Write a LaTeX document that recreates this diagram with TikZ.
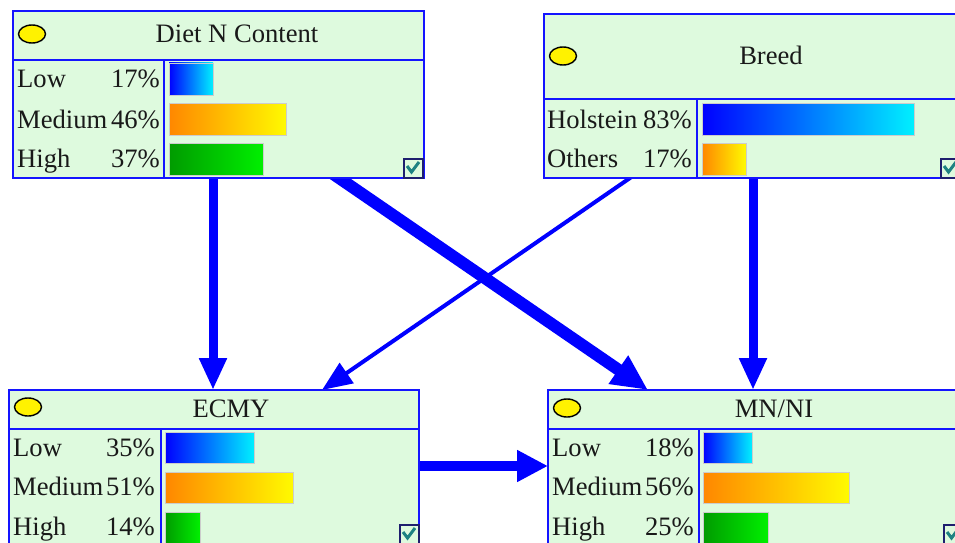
\documentclass[tikz,border=0pt]{standalone}
\usepackage{fontspec}
\setmainfont{Liberation Serif}
\usetikzlibrary{arrows.meta,calc,shapes.geometric}
\pgfdeclarelayer{bg}
\pgfsetlayers{bg,main}
\definecolor{nodebg}{RGB}{222,250,222}
\definecolor{nodeblue}{RGB}{20,20,255}
\definecolor{arrblue}{RGB}{0,0,255}
\definecolor{chkteal}{RGB}{30,130,130}
\definecolor{chknavy}{RGB}{30,30,110}
\definecolor{barblueL}{RGB}{0,0,255}
\definecolor{barblueR}{RGB}{0,240,255}
\definecolor{barorL}{RGB}{255,135,0}
\definecolor{barorR}{RGB}{255,250,0}
\definecolor{bargrL}{RGB}{0,155,0}
\definecolor{bargrR}{RGB}{0,240,0}
\tikzset{
  netbox/.style={draw=nodeblue, line width=2pt, fill=nodebg, inner sep=0pt, outer sep=0pt, anchor=north west},
  sepline/.style={draw=nodeblue, line width=2pt},
  txt/.style={inner sep=0pt, font=\fontsize{26.6}{30}\selectfont, text=black!90},
  lbl/.style={txt, anchor=base west},
  pct/.style={txt, anchor=base east},
  ttl/.style={txt, anchor=base},
  barline/.style={draw=black!20, line width=0.6pt},
  bluebar/.style={barline, left color=barblueL, right color=barblueR},
  orbar/.style={barline, left color=barorL, right color=barorR},
  grbar/.style={barline, left color=bargrL, right color=bargrR},
  bulb/.style={ellipse, draw=black, line width=1.4pt, fill=yellow, minimum width=27pt, minimum height=18pt, inner sep=0pt},
  chkbox/.style={draw=chknavy, line width=1.5pt, fill=nodebg, minimum size=19pt, inner sep=0pt, anchor=north west},
  chk/.style={draw=chkteal, line width=3pt},
  arr/.style={draw=arrblue, shorten <=-12pt, -{Triangle[length=32pt,width=26pt]}},
}
\begin{document}
\begin{tikzpicture}[x=1pt,y=-1pt]
\clip (0,0) rectangle (955,543);

% ---------- Diet N Content ----------
\node[netbox, minimum width=411pt, minimum height=167pt] (diet) at (13,11) {};
\draw[sepline] (13,60) -- (424,60);
\draw[sepline] (164,60) -- (164,178);
\node[bulb] (dietb) at (32,34) {};
\node[ttl] (diett) at (237,42) {Diet N Content};
\node[lbl] (dl1) at (17,88) {Low};
\node[pct] (dp1) at (160,88) {17\%};
\node[lbl] (dl2) at (17,128) {Medium};
\node[pct] (dp2) at (160,128) {46\%};
\node[lbl] (dl3) at (17,167) {High};
\node[pct] (dp3) at (160,167) {37\%};
\path[bluebar] (169,63) rectangle (213,95);
\path[orbar] (169,103) rectangle (286,135);
\path[grbar] (169,143) rectangle (263,175);
\node[chkbox] (dietc) at (403,158) {};
\draw[chk] (407,166) -- (411.5,172) -- (419,162);

% ---------- Breed ----------
\node[netbox, minimum width=420pt, minimum height=164pt] (breed) at (544,14) {};
\draw[sepline] (544,99) -- (964,99);
\draw[sepline] (697,99) -- (697,178);
\node[bulb] (breedb) at (563,56) {};
\node[ttl] (breedt) at (771,65) {Breed};
\node[lbl] (bl1) at (547,128) {Holstein};
\node[pct] (bp1) at (692,128) {83\%};
\node[lbl] (bl2) at (547,167) {Others};
\node[pct] (bp2) at (692,167) {17\%};
\path[bluebar] (702,103) rectangle (914,135);
\path[orbar] (702,143) rectangle (746,175);
\node[chkbox] (breedc) at (940,158) {};
\draw[chk] (944,166) -- (948.5,172) -- (956,162);

% ---------- ECMY ----------
\node[netbox, minimum width=410pt, minimum height=170pt] (ecmy) at (9,390) {};
\draw[sepline] (9,429) -- (419,429);
\draw[sepline] (161,429) -- (161,560);
\node[bulb] (ecmyb) at (28,407) {};
\node[ttl] (ecmyt) at (231,417) {ECMY};
\node[lbl] (el1) at (13,456) {Low};
\node[pct] (ep1) at (155,456) {35\%};
\node[lbl] (el2) at (13,495) {Medium};
\node[pct] (ep2) at (155,495) {51\%};
\node[lbl] (el3) at (13,535) {High};
\node[pct] (ep3) at (155,535) {14\%};
\path[bluebar] (165,432) rectangle (254,463);
\path[orbar] (165,472) rectangle (293,503);
\path[grbar] (165,512) rectangle (200,545);
\node[chkbox] (ecmyc) at (399,524) {};
\draw[chk] (403,532) -- (407.5,538) -- (415,528);

% ---------- MN/NI ----------
\node[netbox, minimum width=420pt, minimum height=170pt] (mnni) at (548,390) {};
\draw[sepline] (548,429) -- (968,429);
\draw[sepline] (699,429) -- (699,560);
\node[bulb] (mnnib) at (567,408) {};
\node[ttl] (mnnit) at (774,417) {MN/NI};
\node[lbl] (ml1) at (552,456) {Low};
\node[pct] (mp1) at (694,456) {18\%};
\node[lbl] (ml2) at (552,495) {Medium};
\node[pct] (mp2) at (694,495) {56\%};
\node[lbl] (ml3) at (552,535) {High};
\node[pct] (mp3) at (694,535) {25\%};
\path[bluebar] (703,432) rectangle (752,463);
\path[orbar] (703,472) rectangle (849,503);
\path[grbar] (703,512) rectangle (768,545);
\node[chkbox] (mnnic) at (943,524) {};
\draw[chk] (947,532) -- (951.5,538) -- (959,528);

% ---------- background and connectors (behind the boxes) ----------
\begin{pgfonlayer}{bg}
\fill[white] (0,0) rectangle (955,543);
\draw[arr, line width=9pt] (diet.south -| 213,0) -- (ecmy.north -| 213,0);
\draw[arr, line width=12pt, -{Triangle[length=36pt,width=32pt]}] (diet.south -| 339,0) -- (mnni.north -| 648,0);
\draw[arr, line width=4pt, -{Triangle[length=30pt,width=24pt]}] (breed.south -| 630,0) -- (ecmy.north -| 322,0);
\draw[arr, line width=9pt] (breed.south -| 753,0) -- (mnni.north -| 753,0);
\draw[arr, line width=10pt, -{Triangle[length=31pt,width=30pt]}] (ecmy.east |- 0,466) -- (mnni.west |- 0,466);
\end{pgfonlayer}
\end{tikzpicture}
\end{document}
